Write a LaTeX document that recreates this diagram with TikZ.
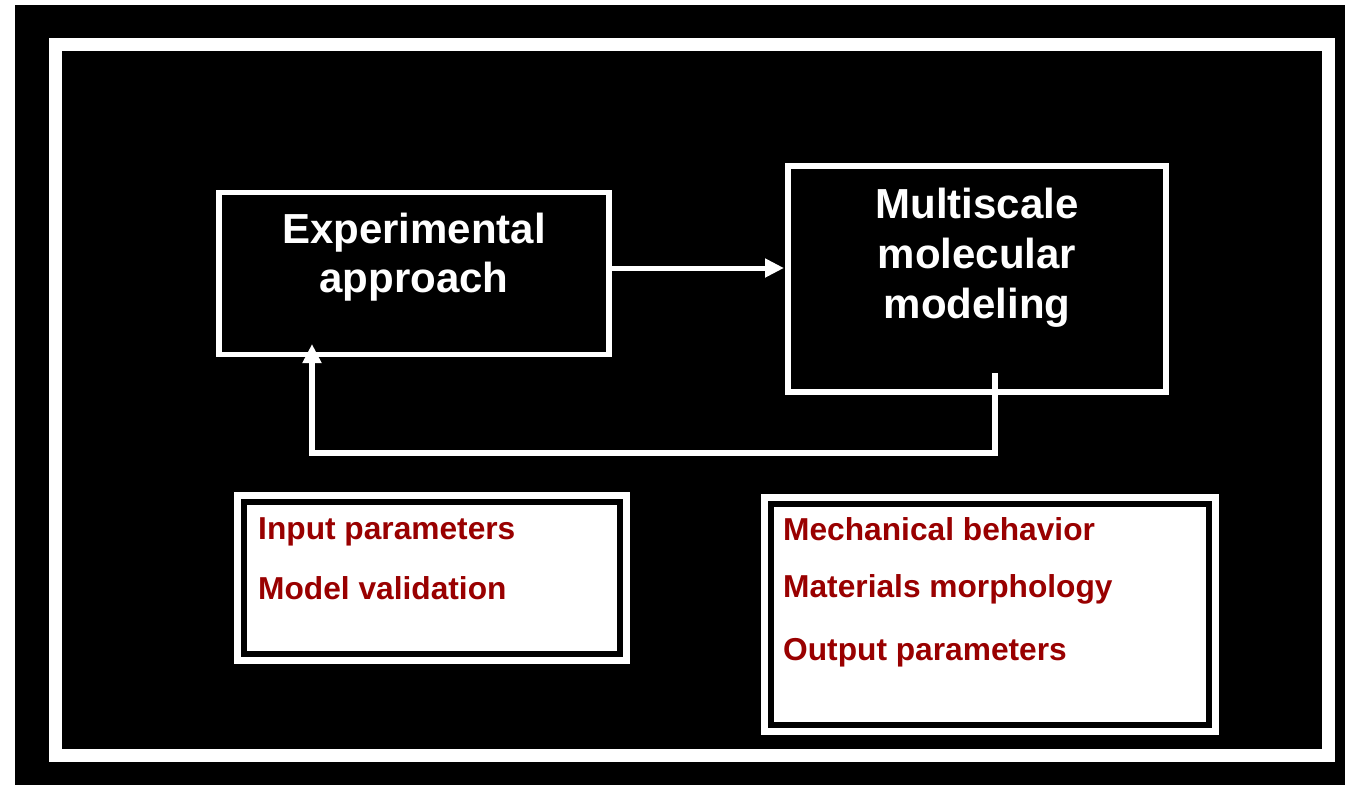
\documentclass[tikz,border=0pt]{standalone}
\usepackage{fontspec}
\setmainfont{Liberation Sans}
\usetikzlibrary{arrows.meta}
\definecolor{txtred}{RGB}{153,0,0}
\tikzset{
  mainbox/.style={draw=white, line width=5.5pt, fill=black, inner sep=0pt, outer sep=0pt, rectangle},
  maintext/.style={text=white, font=\bfseries\fontsize{42}{49.5}\selectfont, align=center, inner sep=0pt, anchor=base},
  listbox/.style={draw=black, line width=6pt, fill=white, inner sep=0pt, outer sep=0pt, rectangle,
    preaction={draw=white, line width=20pt}},
  listtext/.style={text=txtred, font=\bfseries\fontsize{31.7}{38}\selectfont, inner sep=0pt, anchor=base west},
  conn/.style={draw=white, line width=6pt, -{Triangle[length=19pt,width=18pt]}},
}
\begin{document}
\begin{tikzpicture}[x=1pt,y=-1pt]
\useasboundingbox (0,0) rectangle (1345,785);
\fill[white] (0,0) rectangle (1345,785);
\fill[black] (15,5) rectangle (1345,785);
\draw[white, line width=13pt] (55.5,44.5) rectangle (1328.5,755);

\node[mainbox, minimum width=390pt, minimum height=162pt] (exp) at (414,273.5) {};
\node[mainbox, minimum width=378pt, minimum height=226pt, line width=6pt] (ms) at (977,279) {};
\node[maintext, font=\bfseries\fontsize{42}{49}\selectfont] (exptxt) at (414,292) {Experimental\\approach};
\node[maintext, font=\bfseries\fontsize{42}{50}\selectfont] (mstxt) at (977,318.5) {Multiscale\\molecular\\modeling};

\draw[conn, line width=5pt, shorten >=4pt] (exp.east |- 0,268) -- (ms.west |- 0,268);

\coordinate (fbstart) at (995,373);
\coordinate (fbcorner) at (995,453);
\coordinate (fbend) at (312,344);
\draw[conn] (fbstart) -- (fbcorner) -| (fbend);

\node[listbox, minimum width=376pt, minimum height=152pt] (lb) at (432,577.5) {};
\node[listbox, minimum width=438pt, minimum height=221pt] (rb) at (990,614.5) {};

\node[listtext] (l1) at (258,539) {Input parameters};
\node[listtext] (l2) at (258,599) {Model validation};
\node[listtext] (r1) at (783,540) {Mechanical behavior};
\node[listtext] (r2) at (783,597) {Materials morphology};
\node[listtext] (r3) at (783,660) {Output parameters};
\end{tikzpicture}
\end{document}
